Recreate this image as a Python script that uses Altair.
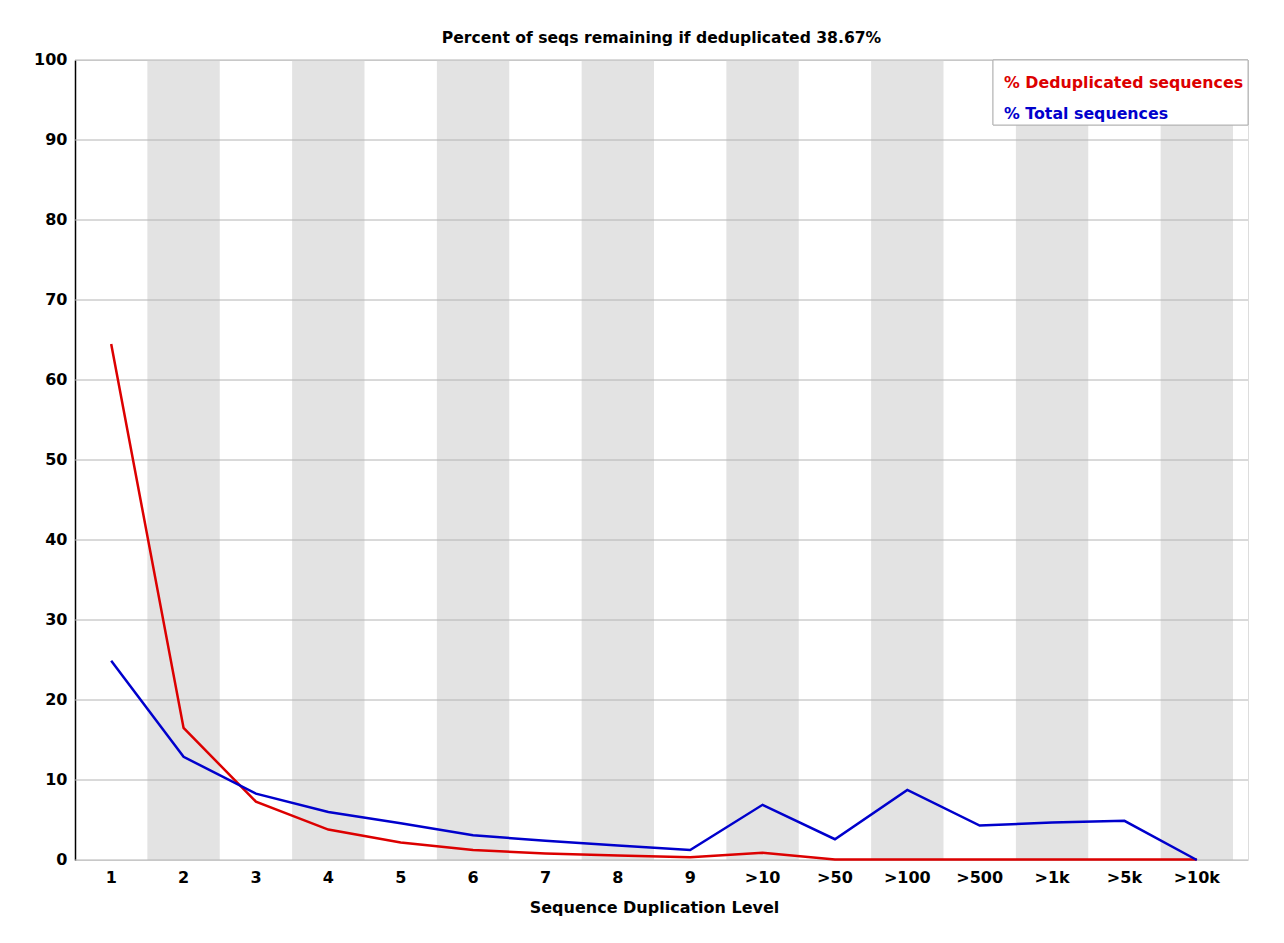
import altair as alt
import pandas as pd

categories = ["1", "2", "3", "4", "5", "6", "7", "8", "9",
              ">10", ">50", ">100", ">500", ">1k", ">5k", ">10k"]
dedup = [64.5, 16.5, 7.3, 3.8, 2.2, 1.25, 0.8, 0.55, 0.35,
         0.9, 0.05, 0.05, 0.05, 0.05, 0.05, 0.05]
total = [24.9, 12.9, 8.3, 6.0, 4.6, 3.1, 2.4, 1.8, 1.25,
         6.9, 2.6, 8.75, 4.3, 4.7, 4.9, 0.0]
series_names = ["% Deduplicated sequences", "% Total sequences"]
series_colors = ["#dc0000", "#0000cc"]
grid_values = list(range(0, 101, 10))
title_text = "Percent of seqs remaining if deduplicated 38.67%"

FONT = "DejaVu Sans"
W, H = 1173, 800
BAND_RANGE = 1158

rows = []
for c, d, t in zip(categories, dedup, total):
    rows.append({"cat": c, "series": series_names[0], "value": d})
    rows.append({"cat": c, "series": series_names[1], "value": t})
lines_df = pd.DataFrame(rows)

bands_df = pd.DataFrame({"cat": [c for i, c in enumerate(categories) if i % 2 == 1]})
bands_df["lo"] = 0
bands_df["hi"] = 100

grid_df = pd.DataFrame({"v": grid_values})
legend_df = pd.DataFrame({"series": series_names})

xscale = alt.Scale(domain=categories, range=[0, BAND_RANGE], paddingInner=0, paddingOuter=0, type="band")
yscale = alt.Scale(domain=[0, 100], nice=False)
cscale = alt.Scale(domain=series_names, range=series_colors)

x_axis = alt.Axis(labelAngle=0, domain=False, ticks=False, grid=False,
                  labelPadding=9, titlePadding=14,
                  labelFont=FONT, labelFontSize=16, labelFontWeight="bold",
                  labelColor="black", titleFont=FONT, titleFontSize=16,
                  titleFontWeight="bold", titleColor="black")
y_axis = alt.Axis(values=grid_values, grid=False, ticks=False,
                  domainColor="black", domainWidth=1.5, labelPadding=8,
                  labelFont=FONT, labelFontSize=16, labelFontWeight="bold",
                  labelColor="black", labelBaseline="middle", labelOffset=-1)

bands = alt.Chart(bands_df).mark_rect(color="#e3e3e3").encode(
    x=alt.X("cat:N", scale=xscale, sort=categories, title="Sequence Duplication Level", axis=x_axis),
    y=alt.Y("lo:Q", scale=yscale, title=None, axis=y_axis),
    y2="hi",
)

grid = alt.Chart(grid_df).mark_rule(color="#b4b4b4", strokeWidth=1).encode(
    y=alt.Y("v:Q", title=None),
    x=alt.value(0),
    x2=alt.value(W),
)

lines = alt.Chart(lines_df).mark_line(strokeWidth=2.5).encode(
    x=alt.X("cat:N", sort=categories, bandPosition=0.5, title="Sequence Duplication Level"),
    y=alt.Y("value:Q", title=None),
    color=alt.Color("series:N", scale=cscale, legend=None),
    detail="series:N",
)

legend_box = alt.Chart(legend_df).mark_rect(fill="white", stroke="#b4b4b4", strokeWidth=1).encode(
    x=alt.value(918), x2=alt.value(W), y=alt.value(0), y2=alt.value(65),
)

legend_red = alt.Chart(legend_df).transform_filter(
    alt.datum.series == series_names[0]
).mark_text(align="left", baseline="middle", font=FONT, fontSize=15.8, fontWeight="bold").encode(
    x=alt.value(929), y=alt.value(23), text="series:N",
    color=alt.Color("series:N", scale=cscale, legend=None),
)
legend_blue = alt.Chart(legend_df).transform_filter(
    alt.datum.series == series_names[1]
).mark_text(align="left", baseline="middle", font=FONT, fontSize=15.8, fontWeight="bold").encode(
    x=alt.value(929), y=alt.value(54), text="series:N",
    color=alt.Color("series:N", scale=cscale, legend=None),
)

chart = alt.layer(bands, grid, lines, legend_box, legend_red, legend_blue).properties(
    width=W, height=H,
    title=alt.TitleParams(title_text, font=FONT, fontSize=15.6, fontWeight="bold",
                          color="black", anchor="middle", offset=4),
    autosize=alt.AutoSizeParams(type="none"),
    padding={"left": 67, "top": 52, "right": 20, "bottom": 70},
).configure_view(stroke=None).configure(background="white")

chart.save("out.html", embed_options={"renderer": "svg", "actions": False})
